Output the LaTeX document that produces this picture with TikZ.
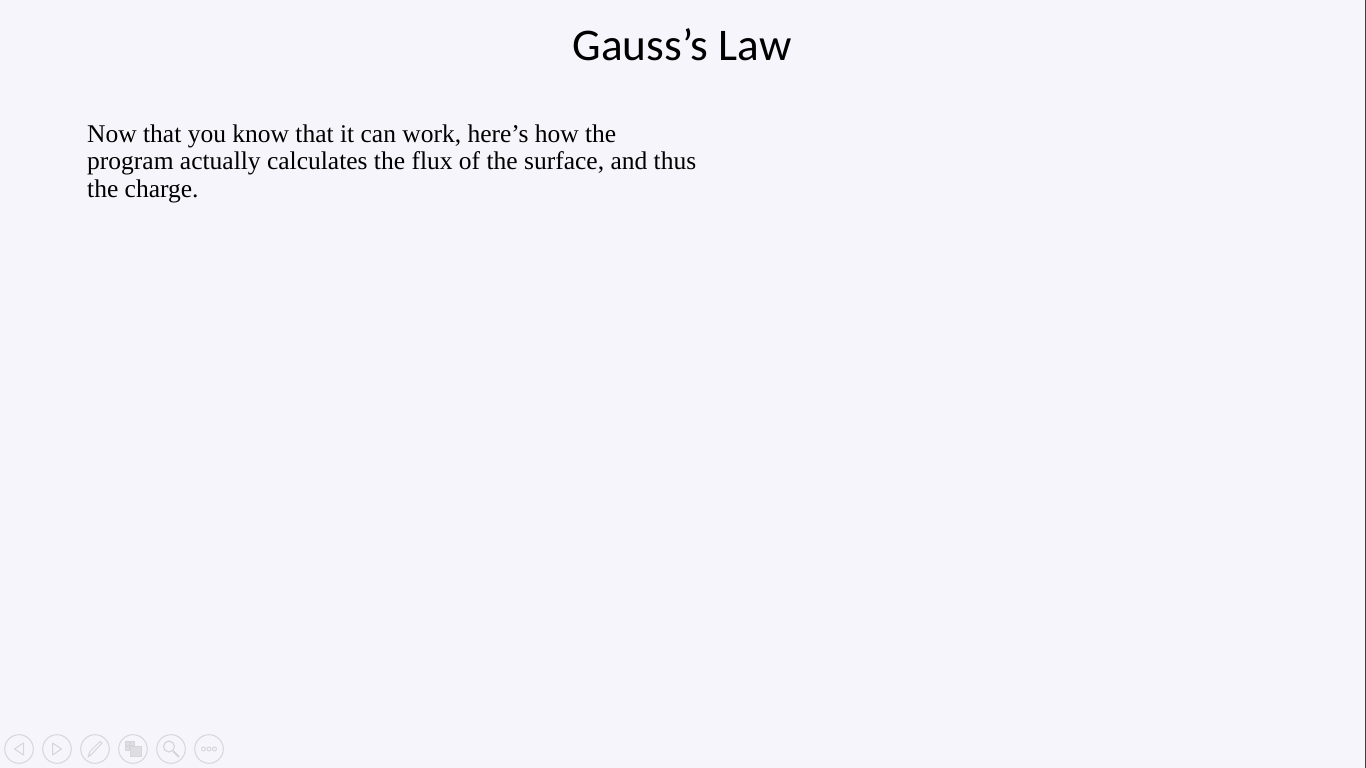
\documentclass[tikz,border=0pt]{standalone}
\usepackage{fontspec}
\setmainfont{Liberation Serif}
\newfontfamily\titlefont{Carlito}
\definecolor{slidebg}{HTML}{F5F5FB}
\definecolor{navline}{HTML}{D6D6DA}
\definecolor{navfill}{HTML}{DEDEE2}
\tikzset{
  navcirc/.style={draw=navline,line width=1pt,fill=none},
  navglyph/.style={draw=navline,line width=1pt,fill=none,line join=round},
  navsolid/.style={draw=navline,line width=.8pt,fill=navfill},
}
\begin{document}
\begin{tikzpicture}[x=1pt,y=-1pt]
\useasboundingbox (0,0) rectangle (1366,768);
\fill[slidebg] (0,0) rectangle (1366,768);
\fill[black!75] (1365,0) rectangle (1366,768);
\node[anchor=base,inner sep=0pt] (title) at (682,60) {\titlefont\fontsize{45.3}{54}\selectfont Gauss’s Law};
\node[anchor=base west,inner sep=0pt] (l1) at (87,142.2) {\fontsize{25.5}{27.5}\selectfont Now that you know that it can work, here’s how the};
\node[anchor=base west,inner sep=0pt] (l2) at (87,169.4) {\fontsize{25.5}{27.5}\selectfont program actually calculates the flux of the surface, and thus};
\node[anchor=base west,inner sep=0pt] (l3) at (87,197.2) {\fontsize{25.5}{27.5}\selectfont the charge.};
\foreach \cx in {19,57,95,133,171,209}{\draw[navcirc] (\cx,749) circle (14.3);}
\draw[navglyph] (23.5,743) -- (14.5,749) -- (23.5,755) -- cycle;
\draw[navglyph] (52.5,743) -- (61.5,749) -- (52.5,755) -- cycle;
\draw[navglyph] (88,757) -- (90,751.5) -- (100,741.5) -- (102,743) -- (92.5,753.5) -- cycle;
\draw[navsolid] (125,741) rectangle (129,745);
\draw[navsolid] (125,746.5) rectangle (129,750.5);
\draw[navsolid] (130.5,741) rectangle (134.5,745);
\draw[navsolid] (130,746) rectangle (141,756);
\draw[navglyph,line width=1.2pt] (169,746.5) circle (5.5);
\draw[navglyph,line width=2pt] (173,751) -- (179,757);
\draw[navglyph] (203.5,749) circle (2) (209,749) circle (2) (214.5,749) circle (2);
\end{tikzpicture}
\end{document}
